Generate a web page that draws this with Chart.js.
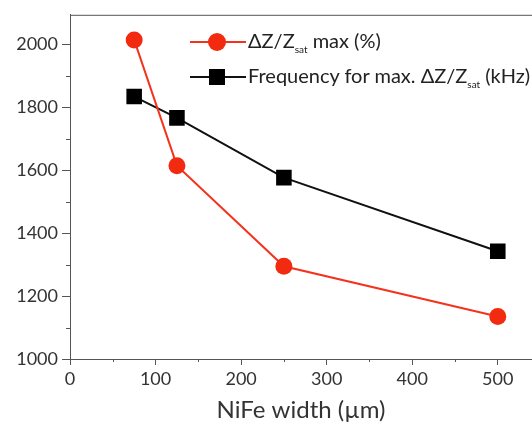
<!DOCTYPE html>
<html>
<head>
<meta charset="utf-8">
<script src="https://cdn.jsdelivr.net/npm/chart.js@4"></script>
<style>
    body { margin: 0; background: #fff; overflow: hidden; }
    #wrap { position: relative; width: 532px; height: 425px; overflow: hidden; }
    .legRow { position: absolute; left: 190px; height: 20px; font-family: Lato, sans-serif; font-size: 20px; color: #222; white-space: nowrap; }
    .legRow .ln { position: absolute; left: 0; top: 9px; width: 56px; height: 2px; }
    .legRow .mk { position: absolute; }
    .legRow .tx { position: absolute; left: 58px; top: -4px; }
    .legRow sub { font-size: 10px; }
</style>
</head>
<body>
<div id="wrap">
    <canvas id="chart01" width="532" height="425"></canvas>
    <div class="legRow" style="top:32px">
        <div class="ln" style="background:#f5321e"></div>
        <div class="mk" style="left:18px;top:1px;width:18px;height:18px;border-radius:50%;background:#f22a10"></div>
        <div class="tx">&Delta;Z/Z<sub>sat</sub> max (%)</div>
    </div>
    <div class="legRow" style="top:67px">
        <div class="ln" style="background:#111"></div>
        <div class="mk" style="left:19px;top:2px;width:16px;height:16px;background:#000"></div>
        <div class="tx">Frequency for max. &Delta;Z/Z<sub>sat</sub> (kHz)</div>
    </div>
</div>
<script>
const widths = [75, 125, 250, 500];
const dzMax = [2015, 1615, 1295, 1135];
const freqMax = [1835, 1767, 1577, 1343];
const xTicks = [0, 100, 200, 300, 400, 500];
const yTicks = [1000, 1200, 1400, 1600, 1800, 2000];

const axisColor = '#555';

// minor ticks + top frame line
const minorTicks = {
    id: 'minorTicks',
    afterDraw(chart) {
        const ctx = chart.ctx;
        const area = chart.chartArea;
        const sx = chart.scales.x;
        const sy = chart.scales.y;
        ctx.save();
        ctx.strokeStyle = axisColor;
        ctx.lineWidth = 1;
        ctx.beginPath();
        for (let v = 50; v < sx.max; v += 100) {
            const px = Math.round(sx.getPixelForValue(v)) + 0.5;
            ctx.moveTo(px, area.bottom);
            ctx.lineTo(px, area.bottom + 3);
        }
        for (let v = 1100; v < sy.max; v += 200) {
            const py = Math.round(sy.getPixelForValue(v)) + 0.5;
            ctx.moveTo(area.left, py);
            ctx.lineTo(area.left - 4, py);
        }
        ctx.moveTo(area.left, area.top + 0.5);
        ctx.lineTo(area.right, area.top + 0.5);
        ctx.stroke();
        ctx.restore();
    }
};

const ctx01 = document.getElementById('chart01');
new Chart(ctx01, {
    type: 'line',
    data: {
        datasets: [{
            label: 'ΔZ/Zsat max (%)',
            data: widths.map((w, i) => ({ x: w, y: dzMax[i] })),
            borderColor: '#f5321e',
            backgroundColor: '#f22a10',
            borderWidth: 2,
            pointStyle: 'circle',
            pointRadius: 8.5,
            pointBorderWidth: 0,
            order: 1
        }, {
            label: 'Frequency for max. ΔZ/Zsat (kHz)',
            data: widths.map((w, i) => ({ x: w, y: freqMax[i] })),
            borderColor: '#111',
            backgroundColor: '#000',
            borderWidth: 2,
            pointStyle: 'rect',
            pointRadius: 11,
            pointBorderWidth: 0,
            order: 2
        }]
    },
    options: {
        responsive: false,
        animation: false,
        layout: { autoPadding: false, padding: { top: 14, right: 0, left: 0, bottom: 0 } },
        plugins: { legend: { display: false }, tooltip: { enabled: false } },
        scales: {
            x: {
                type: 'linear',
                min: 0,
                max: 540,
                afterBuildTicks: (scale) => { scale.ticks = xTicks.map(v => ({ value: v })); },
                afterFit: (scale) => { scale.height = 66; },
                border: { color: axisColor, width: 1 },
                grid: { drawOnChartArea: false, tickLength: 6, color: axisColor },
                ticks: { color: '#333', font: { family: 'Lato', size: 18 }, padding: 3, maxRotation: 0, callback: (v) => String(v) },
                title: {
                    display: true,
                    text: 'NiFe width (µm)',
                    color: '#333',
                    font: { family: 'Lato', size: 24 },
                    padding: { top: 0, bottom: 0 }
                }
            },
            y: {
                min: 1000,
                max: 2095,
                afterBuildTicks: (scale) => { scale.ticks = yTicks.map(v => ({ value: v })); },
                afterFit: (scale) => { scale.width = 70; },
                border: { color: axisColor, width: 1 },
                grid: { drawOnChartArea: false, tickLength: 8, color: axisColor },
                ticks: { color: '#333', font: { family: 'Lato', size: 18 }, padding: 4, callback: (v) => String(v) }
            }
        }
    },
    plugins: [minorTicks]
});
</script>
</body>
</html>
